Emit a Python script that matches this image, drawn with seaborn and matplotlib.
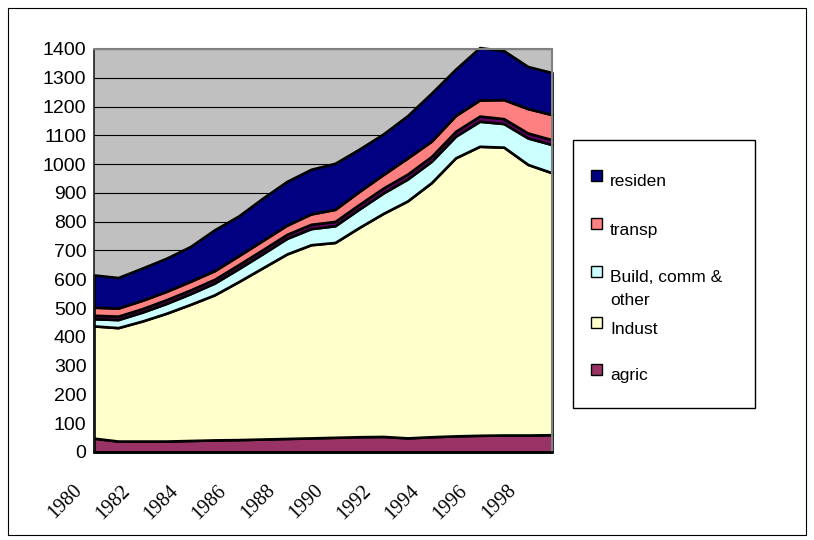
import numpy as np
import pandas as pd
import matplotlib
matplotlib.use("Agg")
import matplotlib.pyplot as plt
import matplotlib.transforms as mtrans
from matplotlib.patches import Rectangle
import seaborn as sns

# ---- data ----
years = list(range(1980, 2000))
agric = [48, 38, 38, 38, 40, 42, 43, 45, 47, 49, 51, 53, 54, 49, 53, 56, 58, 59, 59, 60]
indust = [390, 394, 417, 444, 473, 504, 549, 595, 641, 671, 677, 727, 775, 823, 883, 966, 1004, 1000, 940, 910]
build = [25, 28, 31, 34, 37, 41, 45, 49, 54, 56, 58, 64, 71, 76, 74, 75, 87, 82, 92, 98]
other = [12, 12, 12, 13, 13, 13, 14, 14, 14, 15, 15, 16, 17, 17, 17, 17, 18, 17, 17, 17]
transp = [28, 28, 29, 29, 30, 30, 31, 32, 32, 36, 42, 45, 47, 56, 53, 55, 56, 66, 85, 87]
residen = [112, 106, 112, 115, 121, 142, 138, 147, 152, 155, 160, 147, 141, 147, 167, 161, 182, 170, 146, 146]

series_names = ["agric", "Indust", "Build, comm &\nother", "other", "transp", "residen"]
series_colors = ["#993366", "#FFFFCC", "#CCFFFF", "#660066", "#FF8080", "#000080"]
legend_order = ["residen", "transp", "Build, comm &\nother", "Indust", "agric"]
ytick_values = list(range(0, 1500, 100))
xtick_labels = [str(y) if y % 2 == 0 else "" for y in years]

df = pd.DataFrame({"year": years, "agric": agric, "Indust": indust,
                   "Build, comm &\nother": build, "other": other,
                   "transp": transp, "residen": residen})

sns.set_theme(style="white")
plt.rcParams['font.family'] = ['Liberation Sans', 'DejaVu Sans']

W, H = 814, 540
fig = plt.figure(figsize=(W / 100, H / 100), dpi=100)
fig.patch.set_facecolor("white")

# outer frame
fig.add_artist(Rectangle((8 / W, 1 - 535 / H), 798 / W, 527 / H, transform=fig.transFigure,
                         fill=False, edgecolor="black", linewidth=0.8))

L, R, T, B = 94, 552, 49, 452
ax = fig.add_axes([L / W, 1 - B / H, (R - L) / W, (B - T) / H])
ax.set_facecolor("#C0C0C0")

x = np.arange(len(years))
polys = ax.stackplot(x, *[df[n].values for n in series_names], colors=series_colors,
                     edgecolor="black", linewidth=1.9, zorder=3)
for p in polys:
    p.set_clip_on(False)

ax.set_xlim(0, len(years) - 1)
ax.set_ylim(0, 1400)
ax.set_yticks(ytick_values)
ax.yaxis.grid(True, color="black", linewidth=0.8)
ax.xaxis.grid(False)
ax.set_axisbelow(True)

ax.set_xticks(x)
ax.set_xticklabels(xtick_labels, rotation=45, ha="right", va="top",
                   fontsize=14.5, family=["Liberation Serif", "DejaVu Serif"])
ax.tick_params(axis="x", direction="in", length=5, width=1, colors="black", pad=21)
ax.tick_params(axis="y", direction="inout", length=5, width=1, colors="black", pad=3, labelsize=14)
off = mtrans.ScaledTranslation(-8 / 100, 0, fig.dpi_scale_trans)
for lab in ax.get_xticklabels():
    lab.set_transform(lab.get_transform() + off)

for s in ["top", "right"]:
    ax.spines[s].set_color("#808080")
    ax.spines[s].set_linewidth(1.5)
ax.spines["left"].set_color("#202020")
ax.spines["left"].set_linewidth(1.2)
ax.spines["bottom"].set_color("black")
ax.spines["bottom"].set_linewidth(1.8)
for s in ax.spines.values():
    s.set_zorder(4)

# legend (drawn as a boxed key to mimic the spreadsheet layout)
fig.add_artist(Rectangle((573 / W, 1 - 408 / H), 182 / W, 268 / H, transform=fig.transFigure,
                         facecolor="white", edgecolor="black", linewidth=1.0))
color_of = dict(zip(series_names, series_colors))
row_y = [175, 223.5, 271, 322.5, 369]
for name, yc in zip(legend_order, row_y):
    fig.add_artist(Rectangle((591 / W, 1 - (yc + 5.5) / H), 10.5 / W, 11 / H,
                             transform=fig.transFigure, facecolor=color_of[name],
                             edgecolor="black", linewidth=1.0))
    for k, line in enumerate(name.split("\n")):
        fig.text(610 / W, 1 - (yc + 11 + 23 * k) / H, line, fontsize=12.5, ha="left",
                 va="baseline", color="black")

fig.savefig("out.png", dpi=100)
